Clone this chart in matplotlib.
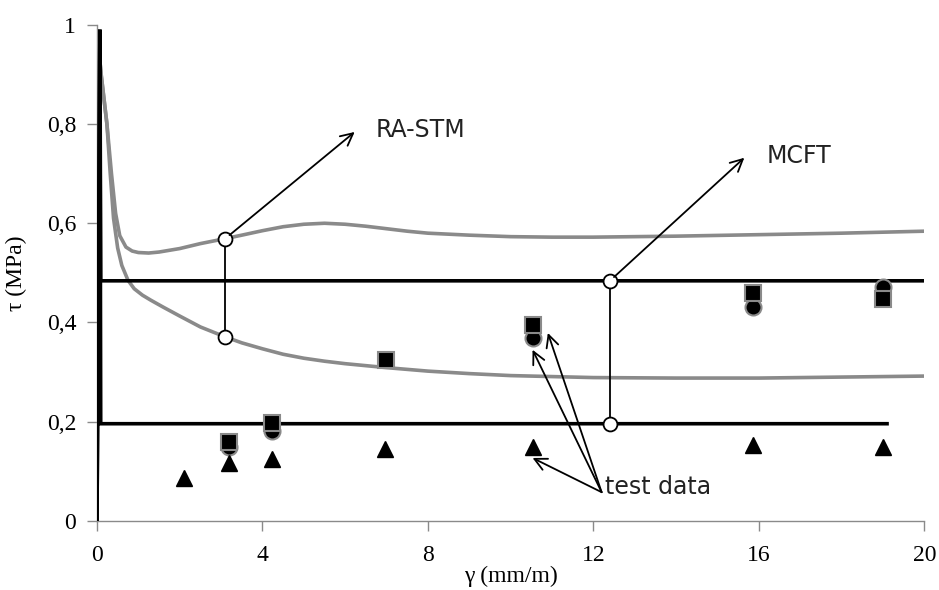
import numpy as np
import matplotlib.pyplot as plt

# RA-STM envelope (upper and lower bound curves)
ra_upper_x = [0, 0.1, 0.24, 0.35, 0.45, 0.55, 0.7, 0.85, 1.0, 1.25, 1.5, 2.0, 2.5, 3.1, 3.5,
              4.0, 4.5, 5.0, 5.5, 6.0, 6.5, 7.0, 7.5, 8.0, 9.0, 10.0, 11.0, 12.0, 14.0, 16.0,
              18.0, 20.0]
ra_upper_y = [0.99, 0.90, 0.80, 0.70, 0.62, 0.575, 0.552, 0.544, 0.541, 0.540, 0.542, 0.549,
              0.559, 0.569, 0.576, 0.585, 0.593, 0.598, 0.600, 0.598, 0.594, 0.589, 0.584,
              0.580, 0.576, 0.573, 0.572, 0.572, 0.574, 0.577, 0.580, 0.584]
ra_lower_x = [0, 0.1, 0.24, 0.32, 0.4, 0.5, 0.6, 0.75, 0.9, 1.1, 1.3, 1.6, 2.0, 2.5, 3.1, 3.5,
              4.0, 4.5, 5.0, 5.5, 6.0, 6.5, 7.0, 8.0, 9.0, 10.0, 11.0, 12.0, 14.0, 16.0, 18.0,
              20.0]
ra_lower_y = [0.99, 0.90, 0.80, 0.70, 0.61, 0.55, 0.515, 0.485, 0.468, 0.455, 0.445, 0.431,
              0.413, 0.391, 0.371, 0.359, 0.347, 0.336, 0.328, 0.322, 0.317, 0.313, 0.309,
              0.302, 0.297, 0.293, 0.291, 0.289, 0.288, 0.288, 0.290, 0.292]

# MCFT envelope
mcft_upper_x = [0, 0.07, 0.09, 20.0]
mcft_upper_y = [0, 0.99, 0.484, 0.484]
mcft_lower_x = [0, 0.07, 0.09, 19.1]
mcft_lower_y = [0, 0.99, 0.196, 0.196]

# test data
circ_x = [3.19, 4.22, 10.53, 15.85, 19.0]
circ_y = [0.150, 0.182, 0.368, 0.432, 0.472]
sq_x = [3.19, 4.22, 6.98, 10.53, 15.85, 19.0]
sq_y = [0.160, 0.198, 0.325, 0.395, 0.460, 0.448]
tri_x = [2.1, 3.19, 4.22, 6.96, 10.53, 15.85, 19.0]
tri_y = [0.087, 0.117, 0.125, 0.145, 0.149, 0.153, 0.149]

# bound markers (x, lower, upper)
ra_mark = (3.1, 0.371, 0.569)
mcft_mark = (12.4, 0.196, 0.484)

xticks = [0, 4, 8, 12, 16, 20]
yticks = [0, 0.2, 0.4, 0.6, 0.8, 1.0]
ytick_labels = ['0', '0,2', '0,4', '0,6', '0,8', '1']

fig = plt.figure(figsize=(9.39, 5.90), dpi=100)
ax = fig.add_axes([0.1033, 0.117, 0.881, 0.841])

gray = '#8a8a8a'
ax.plot(ra_upper_x, ra_upper_y, color=gray, lw=2.6, solid_capstyle='butt', zorder=2)
ax.plot(ra_lower_x, ra_lower_y, color=gray, lw=2.6, solid_capstyle='butt', zorder=2)
ax.plot(mcft_upper_x, mcft_upper_y, color='black', lw=2.6, solid_joinstyle='miter', zorder=3)
ax.plot(mcft_lower_x, mcft_lower_y, color='black', lw=2.6, solid_joinstyle='miter', zorder=3)

ax.plot(circ_x, circ_y, 'o', ms=11.5, mfc='black', mec=gray, mew=1.5, zorder=4)
ax.plot(sq_x, sq_y, 's', ms=11, mfc='black', mec=gray, mew=1.5, zorder=5)
ax.plot(tri_x, tri_y, '^', ms=11.5, mfc='black', mec='black', zorder=5)

# connectors between lower and upper bounds
for mx, lo, hi in (ra_mark, mcft_mark):
    ax.plot([mx, mx], [lo, hi], color='black', lw=1.3, zorder=6)
    ax.plot([mx, mx], [lo, hi], 'o', ms=10, mfc='white', mec='black', mew=1.3, zorder=7)

ann_font = dict(family='DejaVu Sans', fontsize=17, color='#222222')
arrow = dict(arrowstyle='->', color='black', lw=1.3, mutation_scale=22, shrinkA=4, shrinkB=0)

ax.annotate('', xy=(6.23, 0.784), xytext=(ra_mark[0], ra_mark[2]), arrowprops=arrow, zorder=8)
ax.text(6.74, 0.787, 'RA-STM', va='center', ha='left', **ann_font)
ax.annotate('', xy=(15.65, 0.732), xytext=(mcft_mark[0], mcft_mark[2]), arrowprops=arrow, zorder=8)
ax.text(16.2, 0.736, 'MCFT', va='center', ha='left', **ann_font)

origin = (12.2, 0.058)
for tip in [(10.53, 0.345), (10.9, 0.379), (10.53, 0.127)]:
    ax.annotate('', xy=tip, xytext=origin,
                arrowprops=dict(arrow, shrinkA=0), zorder=8)
ax.text(12.27, 0.069, 'test data', va='center', ha='left', **ann_font)

ax.set_xlim(0, 20)
ax.set_ylim(0, 1)
ax.set_xticks(xticks)
ax.set_xticklabels([str(v) for v in xticks])
ax.set_yticks(yticks)
ax.set_yticklabels(ytick_labels)

for side in ('top', 'right'):
    ax.spines[side].set_visible(False)
for side in ('left', 'bottom'):
    ax.spines[side].set_color(gray)
    ax.spines[side].set_linewidth(1.0)

ax.tick_params(direction='out', length=7, width=1.0, color=gray, labelsize=17)
ax.tick_params(axis='x', pad=10)
ax.tick_params(axis='y', pad=8)
for lab in ax.get_xticklabels() + ax.get_yticklabels():
    lab.set_family('Liberation Serif')

ax.set_xlabel('γ (mm/m)', family='Liberation Serif', fontsize=17, labelpad=0)
ax.set_ylabel('τ (MPa)', family='Liberation Serif', fontsize=17, labelpad=14)

fig.savefig('out.png', dpi=100, facecolor='white')
